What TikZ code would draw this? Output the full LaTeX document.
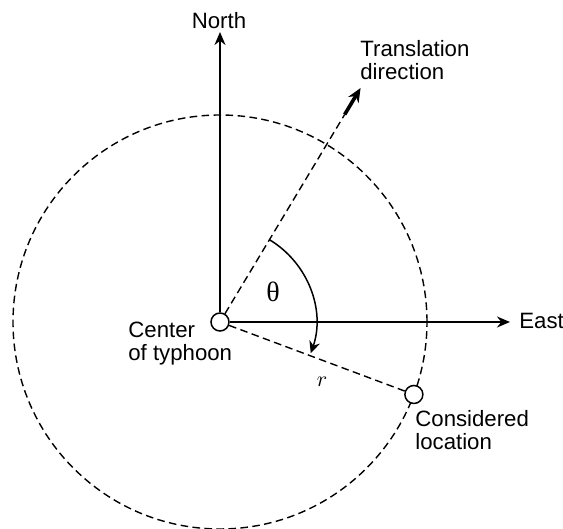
\documentclass[tikz,border=0pt]{standalone}
\usepackage{fontspec}
\setmainfont{Liberation Sans}
\newfontfamily\thetafont{Liberation Serif}
\usetikzlibrary{arrows.meta,positioning,calc}

\begin{document}
\begin{tikzpicture}[
  x=0.5pt, y=0.5pt,
  axis/.style={line width=1pt, -{Stealth[length=6.5pt, width=5.5pt]}},
  dashline/.style={line width=0.7pt, dash pattern=on 3.8pt off 2.2pt},
  pt/.style={circle, draw, line width=0.75pt, fill=white, minimum size=9pt, inner sep=0pt},
  lbl/.style={draw=none, inner sep=0pt, align=left, font=\fontsize{11.1}{11.5}\selectfont}
]
  \useasboundingbox (0,0) rectangle (563,529);
  \coordinate (o) at (220,207);
  % influence circle
  \draw[dashline] (o) circle[radius=103.5pt];
  \node[pt] (ctr) at (o) {};
  \node[pt] (loc) at ($(o)+(-20.5:207)$) {};
  \coordinate (ntip) at (220,497);
  \coordinate (etip) at (510,207);
  \coordinate (tbase) at ($(o)+(59:242)$);
  \coordinate (ttip) at ($(o)+(59:273)$);
  \draw[axis] (ctr) -- (ntip);
  \draw[axis] (ctr) -- (etip);
  \draw[dashline] (ctr) -- (tbase);
  \draw[line width=1.8pt, -{Stealth[length=7pt, width=6pt]}] (tbase) -- (ttip);
  \draw[dashline] (ctr) -- (loc);
  \draw[line width=0.75pt, -{Stealth[length=6pt, width=5.5pt]}]
    ($(o)+(59:96)$) arc[start angle=59, end angle=-19, radius=48pt];
  \node[lbl, anchor=north] (north) at (219,517) {North};
  \node[lbl, anchor=north west] (east) at (519,216) {East};
  \node[lbl, anchor=north west] (trans) at (360,489) {Translation\\direction};
  \node[lbl, anchor=north west] (ctrlbl) at (128,207) {Center\\of typhoon};
  \node[lbl, anchor=north west] (loclbl) at (415,119) {Considered\\location};
  \node[draw=none, inner sep=0pt, font=\thetafont\fontsize{14}{14}\selectfont] (theta) at (273,237) {θ};
  \node[draw=none, inner sep=0pt, font=\fontsize{11}{11}\selectfont] (rlbl) at (322,147) {$r$};
\end{tikzpicture}
\end{document}
